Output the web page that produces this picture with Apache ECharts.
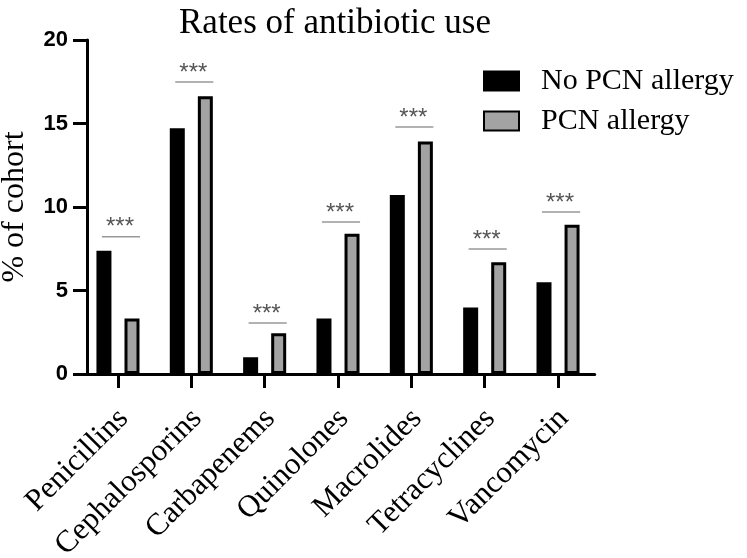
<!DOCTYPE html>
<html>
<head>
<meta charset="utf-8">
<script src="https://cdn.jsdelivr.net/npm/echarts@6/dist/echarts.min.js"></script>
<style>
html,body{margin:0;padding:0;background:#fff;}
#chart{width:747px;height:558px;}
</style>
</head>
<body>
<div id="chart"></div>
<script>
const categories = ['Penicillins','Cephalosporins','Carbapenems','Quinolones','Macrolides','Tetracyclines','Vancomycin'];
const noAllergy = [7.38, 14.72, 1.01, 3.32, 10.72, 3.98, 5.50];
const allergy = [3.32, 16.63, 2.44, 8.40, 13.92, 6.69, 8.93];
const sigLevel = [8.22, 17.49, 3.05, 9.10, 14.79, 7.49, 9.70];
const sigText = ['***','***','***','***','***','***','***'];
const yTicks = [0, 5, 10, 15, 20];

const chart = echarts.init(document.getElementById('chart'));
chart.setOption({
  backgroundColor: '#fff',
  animation: false,
  title: {
    text: 'Rates of antibiotic use',
    left: 174, top: 1,
    textStyle: {fontFamily: 'Liberation Serif', fontSize: 35, fontWeight: 'normal', color: '#000'}
  },
  legend: {
    orient: 'vertical', left: 478, top: 61,
    icon: 'rect',
    itemWidth: 35, itemHeight: 19, itemGap: 10,
    data: ['No PCN allergy', 'PCN allergy'],
    textStyle: {fontFamily: 'Liberation Serif', fontSize: 30, color: '#000', padding: [0, 0, 0, 17]}
  },
  grid: {left: 81.3, right: 152.3, top: 40, bottom: 184, containLabel: false, outerBoundsMode: 'none'},
  xAxis: {
    type: 'category',
    data: categories,
    axisLine: {lineStyle: {color: '#000', width: 3}},
    axisTick: {show: true, length: 14, alignWithLabel: true, lineStyle: {color: '#000', width: 3}},
    axisLabel: {rotate: 45, margin: 30, interval: 0, verticalAlign: 'top', lineHeight: 22, padding: [0, 3, 0, 0],
      fontFamily: 'Liberation Serif', fontSize: 31, color: '#000'}
  },
  yAxis: {
    type: 'value', min: yTicks[0], max: yTicks[yTicks.length - 1], interval: 5,
    offset: -5.7,
    name: '% of cohort', nameLocation: 'middle', nameRotate: 90, nameGap: 56,
    nameTextStyle: {fontFamily: 'Liberation Serif', fontSize: 32, color: '#000'},
    axisLine: {show: true, lineStyle: {color: '#000', width: 3}},
    axisTick: {show: true, length: 14, lineStyle: {color: '#000', width: 3}},
    splitLine: {show: false},
    axisLabel: {margin: 19, fontFamily: 'Liberation Sans', fontWeight: 'bold', fontSize: 22, color: '#000'}
  },
  series: [
    {
      name: 'No PCN allergy', type: 'bar', data: noAllergy,
      barWidth: 15, barGap: '87%',
      itemStyle: {color: '#000', borderColor: '#000', borderWidth: 3}
    },
    {
      name: 'PCN allergy', type: 'bar', data: allergy,
      barWidth: 15,
      itemStyle: {color: '#a3a3a3', borderColor: '#000', borderWidth: 3}
    },
    {
      name: 'sig', type: 'custom',
      data: sigLevel.map((v, i) => [i, v]),
      renderItem: function (params, api) {
        const c = api.coord([api.value(0), api.value(1)]);
        const bw = api.size([1, 0])[0];
        const half = bw * 0.26;
        return {
          type: 'group',
          children: [
            {type: 'line', shape: {x1: c[0] - half + 3, y1: c[1], x2: c[0] + half + 3, y2: c[1]},
             style: {stroke: '#999', lineWidth: 1.5}},
            {type: 'text', x: c[0] + 2, y: c[1] + 3,
             style: {text: sigText[params.dataIndex], fill: '#555', font: '24px "Liberation Sans"', align: 'center', verticalAlign: 'bottom'}}
          ]
        };
      },
      z: 5
    }
  ]
});
</script>
</body>
</html>
